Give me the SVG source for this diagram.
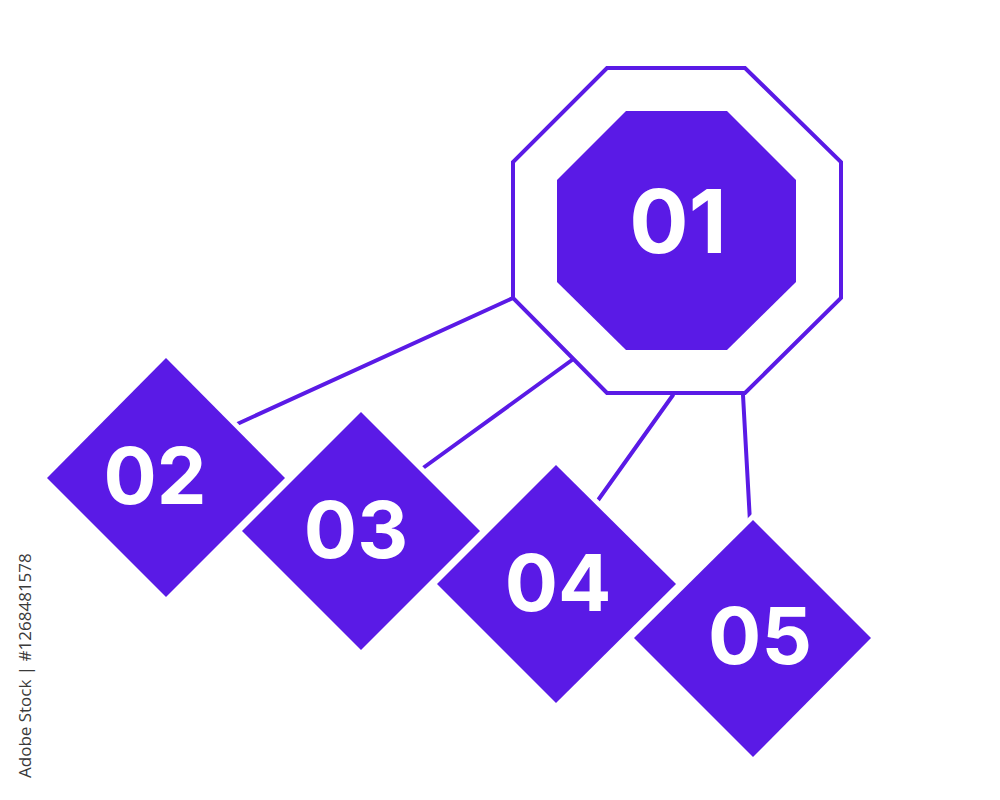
<svg xmlns="http://www.w3.org/2000/svg" width="1000" height="800" viewBox="0 0 1000 800">
<style>
.bg{fill:#ffffff}
.conn{stroke:#5a1ae6;stroke-width:4;fill:none;stroke-linecap:round}
.outer{fill:#ffffff;stroke:#5a1ae6;stroke-width:4;stroke-linejoin:miter}
.inner{fill:#5a1ae6}
.dia{fill:#5a1ae6;stroke:#ffffff;stroke-width:10;paint-order:stroke;stroke-linejoin:miter}
.num{fill:#ffffff;font-family:Inter,"Open Sans","Liberation Sans",sans-serif;font-weight:700;text-anchor:middle;dominant-baseline:central}
.wm{fill:#3a3a3a;font-family:"Open Sans","Liberation Sans",sans-serif;font-size:17px}
</style>
<rect class="bg" x="0" y="0" width="1000" height="800"/>
<g id="connectors">
<line class="conn" x1="513" y1="298" x2="235" y2="425"/>
<line class="conn" x1="572" y1="360" x2="423" y2="468"/>
<line class="conn" x1="673" y1="395" x2="596" y2="503"/>
<line class="conn" x1="743" y1="395" x2="750" y2="522"/>
</g>
<g id="node01">
<polygon class="outer" points="607,68 745,68 841,162 841,298 745,393 607,393 513,298 513,162"/>
<polygon class="inner" points="626,111 727,111 796,180 796,282 727,350 626,350 557,282 557,180"/>
<text class="num" x="678" y="221" font-size="88">01</text>
</g>
<g id="node05">
<polygon class="dia" points="753,520 871,638 753,757 634,638"/>
<text class="num" x="760" y="635" font-size="79">05</text>
</g>
<g id="node04">
<polygon class="dia" points="556,465 676,584 556,703 437,584"/>
<text class="num" x="558" y="582" font-size="79">04</text>
</g>
<g id="node03">
<polygon class="dia" points="361,412 480,531 361,650 242,531"/>
<text class="num" x="356" y="529" font-size="79">03</text>
</g>
<g id="node02">
<polygon class="dia" points="166,358 285,478 166,597 47,478"/>
<text class="num" x="155" y="475" font-size="79">02</text>
</g>
<text class="wm" transform="translate(31,778) rotate(-90)">Adobe Stock | #1268481578</text>
</svg>
